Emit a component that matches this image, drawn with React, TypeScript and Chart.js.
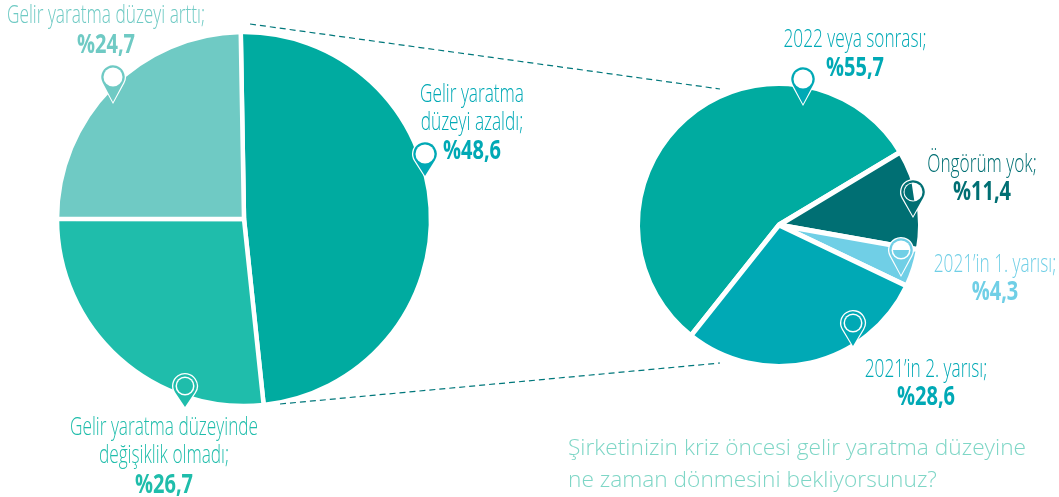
import React, { useEffect, useRef } from "react";
import { Chart, registerables } from "chart.js";

Chart.register(...registerables);

const leftCategories = ["Gelir yaratma düzeyi azaldı", "Gelir yaratma düzeyinde değişiklik olmadı", "Gelir yaratma düzeyi arttı"];
const leftValues = [48.6, 26.7, 24.7];
const leftColors = ["#00ABA0", "#1FBDAB", "#6FCAC4"];

const rightCategories = ["2022 veya sonrası", "Öngörüm yok", "2021'in 1. yarısı", "2021'in 2. yarısı"];
const rightValues = [55.7, 11.4, 4.3, 28.6];
const rightColors = ["#00ABA0", "#006F73", "#70CFE6", "#00A9B5"];

const questionLines = ["Şirketinizin kriz öncesi gelir yaratma düzeyine", "ne zaman dönmesini bekliyorsunuz?"];

type Label = { lines: string[]; value: string; color: string; x: number; y: number; gap: number };
type Pin = { x: number; y: number; tip: number; color: string; kind: string };

const labels: Label[] = [
  { lines: ["Gelir yaratma düzeyi arttı;"], value: "%24,7", color: "#6FCAC4", x: 106, y: 23, gap: 30 },
  { lines: ["Gelir yaratma", "düzeyi azaldı;"], value: "%48,6", color: "#00A9B5", x: 472, y: 102, gap: 29 },
  { lines: ["Gelir yaratma düzeyinde", "değişiklik olmadı;"], value: "%26,7", color: "#1FBDAB", x: 164, y: 435, gap: 30 },
  { lines: ["2022 veya sonrası;"], value: "%55,7", color: "#00A9B5", x: 855, y: 47, gap: 29 },
  { lines: ["Öngörüm yok;"], value: "%11,4", color: "#006F73", x: 982, y: 172, gap: 28 },
  { lines: ["2021’in 1. yarısı;"], value: "%4,3", color: "#70CFE6", x: 995, y: 272, gap: 28 },
  { lines: ["2021’in 2. yarısı;"], value: "%28,6", color: "#00A9B5", x: 926, y: 377, gap: 28 },
];

const pins: Pin[] = [
  { x: 113, y: 77, tip: 102, color: "#6FCAC4", kind: "ring" },
  { x: 425, y: 154, tip: 176, color: "#00A9B5", kind: "ring" },
  { x: 185, y: 386, tip: 407, color: "#1FBDAB", kind: "double" },
  { x: 803, y: 79, tip: 104, color: "#00A9B5", kind: "ring" },
  { x: 913, y: 192, tip: 216, color: "#006F73", kind: "half" },
  { x: 901, y: 250, tip: 275, color: "#70CFE6", kind: "bowl" },
  { x: 853, y: 323, tip: 346, color: "#00A9B5", kind: "double" },
];

const FAMILY = '"Open Sans"';

function drawText(ctx: CanvasRenderingContext2D, text: string, x: number, y: number, font: string, color: string, sx: number, align: CanvasTextAlign = "center") {
  ctx.save();
  ctx.translate(x, y);
  ctx.scale(sx, 1);
  ctx.font = font;
  ctx.fillStyle = color;
  ctx.textAlign = align;
  ctx.textBaseline = "alphabetic";
  ctx.fillText(text, 0, 0);
  ctx.restore();
}

function drawPin(ctx: CanvasRenderingContext2D, p: Pin) {
  const teardrop = (r: number, tip: number) => {
    const a = Math.acos(r / (tip - p.y));
    ctx.beginPath();
    ctx.arc(p.x, p.y, r, Math.PI / 2 + a, Math.PI / 2 - a);
    ctx.lineTo(p.x, tip);
    ctx.closePath();
  };
  ctx.save();
  ctx.fillStyle = "#fff";
  teardrop(13, p.tip + 2);
  ctx.fill();
  ctx.fillStyle = p.color;
  teardrop(11.7, p.tip);
  ctx.fill();
  const circle = (r: number, c: string) => {
    ctx.fillStyle = c;
    ctx.beginPath();
    ctx.arc(p.x, p.y, r, 0, Math.PI * 2);
    ctx.fill();
  };
  circle(9.5, "#fff");
  if (p.kind === "double") {
    circle(8, p.color);
  } else if (p.kind === "half") {
    ctx.fillStyle = p.color;
    ctx.beginPath();
    ctx.arc(p.x, p.y, 8.5, Math.PI / 2 - 0.15, -Math.PI / 2 - 0.15);
    ctx.closePath();
    ctx.fill();
  } else if (p.kind === "bowl") {
    ctx.fillStyle = p.color;
    ctx.beginPath();
    ctx.arc(p.x, p.y, 8, 0, Math.PI);
    ctx.closePath();
    ctx.fill();
  }
  ctx.restore();
}

const overlay = {
  id: "overlay",
  afterDraw(chart: any) {
    const ctx: CanvasRenderingContext2D = chart.ctx;
    ctx.save();
    ctx.strokeStyle = "#00777B";
    ctx.lineWidth = 1.2;
    ctx.setLineDash([6, 4]);
    ctx.beginPath();
    ctx.moveTo(250, 24);
    ctx.lineTo(720, 89);
    ctx.moveTo(280, 404);
    ctx.lineTo(720, 363);
    ctx.stroke();
    ctx.restore();
    pins.forEach((p) => drawPin(ctx, p));
    labels.forEach((l) => {
      l.lines.forEach((line, i) => {
        drawText(ctx, line, l.x, l.y + i * 28, `300 25px ${FAMILY}`, l.color, 0.69);
      });
      drawText(ctx, l.value, l.x, l.y + (l.lines.length - 1) * 28 + l.gap, `700 26px ${FAMILY}`, l.color, 0.77);
    });
    questionLines.forEach((q, i) => {
      drawText(ctx, q, 568, 455 + i * 32, `300 22.7px ${FAMILY}`, "#7ED6C6", 1, "left");
    });
  },
};

function makePie(canvas: HTMLCanvasElement, cats: string[], vals: number[], cols: string[], cx: number, cy: number, r: number, rotation: number, bw: number, plugins: any[]) {
  const W = 1059, H = 497;
  return new Chart(canvas, {
    type: "pie",
    data: { labels: cats, datasets: [{ data: vals, backgroundColor: cols, borderColor: "#fff", borderWidth: bw }] },
    options: {
      responsive: false,
      animation: false,
      rotation,
      radius: r,
      layout: { padding: { left: cx - (r + bw), right: W - cx - (r + bw), top: cy - (r + bw), bottom: H - cy - (r + bw) } },
      plugins: { legend: { display: false }, tooltip: { enabled: false } },
    },
    plugins,
  } as any);
}

export default function App() {
  const a = useRef<HTMLCanvasElement>(null);
  const b = useRef<HTMLCanvasElement>(null);
  useEffect(() => {
    const c1 = makePie(a.current!, leftCategories, leftValues, leftColors, 244, 219, 187, -1, 4.5, []);
    const c2 = makePie(b.current!, rightCategories, rightValues, rightColors, 779, 225, 141.5, -141.5, 5, [overlay]);
    return () => { c1.destroy(); c2.destroy(); };
  }, []);
  const st: React.CSSProperties = { position: "absolute", left: 0, top: 0 };
  return (
    <div style={{ position: "relative", width: 1059, height: 497, overflow: "hidden" }}>
      <style>{`body{margin:0;background:#fff}`}</style>
      <canvas ref={a} width={1059} height={497} style={st} />
      <canvas ref={b} width={1059} height={497} style={st} />
    </div>
  );
}
